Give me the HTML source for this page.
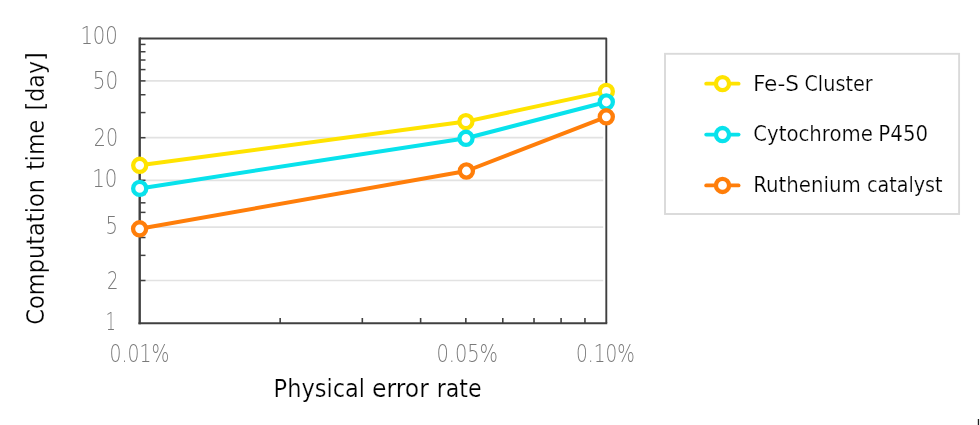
<!DOCTYPE html>
<html lang="en"><head><meta charset="utf-8"><title>Computation time vs physical error rate</title>
<style>
html,body{margin:0;padding:0;background:#fff;}
body{width:980px;height:425px;overflow:hidden;}
svg{display:block;}
.t{font-family:"DejaVu Sans Condensed","DejaVu Sans","Liberation Sans",sans-serif;fill:#000;stroke:#fff;stroke-width:0.22px;paint-order:fill stroke;}
.k{font-family:"DejaVu Sans Light","DejaVu Sans","Liberation Sans",sans-serif;font-weight:200;fill:#7a7a7a;}
</style></head><body>
<svg width="980" height="425" viewBox="0 0 980 425">
<rect width="980" height="425" fill="#fff"/>
<line x1="139.7" x2="603.2" y1="80.89" y2="80.89" stroke="#e2e2e2" stroke-width="1.7"/>
<line x1="139.7" x2="603.2" y1="137.71" y2="137.71" stroke="#e2e2e2" stroke-width="1.7"/>
<line x1="139.7" x2="603.2" y1="180.30" y2="180.30" stroke="#e2e2e2" stroke-width="1.7"/>
<line x1="139.7" x2="603.2" y1="227.20" y2="227.20" stroke="#e2e2e2" stroke-width="1.7"/>
<line x1="139.7" x2="603.2" y1="280.51" y2="280.51" stroke="#e2e2e2" stroke-width="1.7"/>
<line x1="139.7" x2="145.5" y1="280.51" y2="280.51" stroke="#404040" stroke-width="1.5"/>
<line x1="139.7" x2="145.5" y1="255.37" y2="255.37" stroke="#404040" stroke-width="1.5"/>
<line x1="139.7" x2="145.5" y1="237.53" y2="237.53" stroke="#404040" stroke-width="1.5"/>
<line x1="139.7" x2="145.5" y1="223.69" y2="223.69" stroke="#404040" stroke-width="1.5"/>
<line x1="139.7" x2="145.5" y1="212.38" y2="212.38" stroke="#404040" stroke-width="1.5"/>
<line x1="139.7" x2="145.5" y1="202.82" y2="202.82" stroke="#404040" stroke-width="1.5"/>
<line x1="139.7" x2="145.5" y1="194.54" y2="194.54" stroke="#404040" stroke-width="1.5"/>
<line x1="139.7" x2="145.5" y1="187.23" y2="187.23" stroke="#404040" stroke-width="1.5"/>
<line x1="139.7" x2="145.5" y1="137.71" y2="137.71" stroke="#404040" stroke-width="1.5"/>
<line x1="139.7" x2="145.5" y1="112.57" y2="112.57" stroke="#404040" stroke-width="1.5"/>
<line x1="139.7" x2="145.5" y1="94.73" y2="94.73" stroke="#404040" stroke-width="1.5"/>
<line x1="139.7" x2="145.5" y1="80.89" y2="80.89" stroke="#404040" stroke-width="1.5"/>
<line x1="139.7" x2="145.5" y1="69.58" y2="69.58" stroke="#404040" stroke-width="1.5"/>
<line x1="139.7" x2="145.5" y1="60.02" y2="60.02" stroke="#404040" stroke-width="1.5"/>
<line x1="139.7" x2="145.5" y1="51.74" y2="51.74" stroke="#404040" stroke-width="1.5"/>
<line x1="139.7" x2="145.5" y1="44.43" y2="44.43" stroke="#404040" stroke-width="1.5"/>
<line x1="139.7" x2="145.5" y1="180.3" y2="180.3" stroke="#404040" stroke-width="1.5"/>
<line x1="280.16" x2="280.16" y1="323.2" y2="318.0" stroke="#404040" stroke-width="1.6"/>
<line x1="362.32" x2="362.32" y1="323.2" y2="318.0" stroke="#404040" stroke-width="1.6"/>
<line x1="420.62" x2="420.62" y1="323.2" y2="318.0" stroke="#404040" stroke-width="1.6"/>
<line x1="465.84" x2="465.84" y1="323.2" y2="318.0" stroke="#404040" stroke-width="1.6"/>
<line x1="502.79" x2="502.79" y1="323.2" y2="318.0" stroke="#404040" stroke-width="1.6"/>
<line x1="534.02" x2="534.02" y1="323.2" y2="318.0" stroke="#404040" stroke-width="1.6"/>
<line x1="561.08" x2="561.08" y1="323.2" y2="318.0" stroke="#404040" stroke-width="1.6"/>
<line x1="584.95" x2="584.95" y1="323.2" y2="318.0" stroke="#404040" stroke-width="1.6"/>
<path d="M139.7 38.5 H606.3 V323.0" fill="none" stroke="#404040" stroke-width="1.9" stroke-linejoin="round"/>
<path d="M138.5 323.2 H607.25" fill="none" stroke="#404040" stroke-width="2.1"/>
<path d="M139.7 37.55 V324.2" fill="none" stroke="#404040" stroke-width="2.4"/>
<path d="M139.7 165.3 L465.9 121.6 L606.3 91.4" fill="none" stroke="#ffe300" stroke-width="4" stroke-linejoin="round" stroke-linecap="round"/>
<circle cx="139.7" cy="165.3" r="6.55" fill="#fff" stroke="#ffe300" stroke-width="4.3"/>
<circle cx="465.9" cy="121.6" r="6.55" fill="#fff" stroke="#ffe300" stroke-width="4.3"/>
<circle cx="606.3" cy="91.4" r="6.55" fill="#fff" stroke="#ffe300" stroke-width="4.3"/>
<path d="M139.7 188.4 L466.0 138.3 L606.3 102.0" fill="none" stroke="#08e2ec" stroke-width="4" stroke-linejoin="round" stroke-linecap="round"/>
<circle cx="139.7" cy="188.4" r="6.55" fill="#fff" stroke="#08e2ec" stroke-width="4.3"/>
<circle cx="466.0" cy="138.3" r="6.55" fill="#fff" stroke="#08e2ec" stroke-width="4.3"/>
<circle cx="606.3" cy="102.0" r="6.55" fill="#fff" stroke="#08e2ec" stroke-width="4.3"/>
<path d="M139.6 228.8 L466.4 171.0 L606.3 116.8" fill="none" stroke="#ff7e0a" stroke-width="4" stroke-linejoin="round" stroke-linecap="round"/>
<circle cx="139.6" cy="228.8" r="6.55" fill="#fff" stroke="#ff7e0a" stroke-width="4.3"/>
<circle cx="466.4" cy="171.0" r="6.55" fill="#fff" stroke="#ff7e0a" stroke-width="4.3"/>
<circle cx="606.3" cy="116.8" r="6.55" fill="#fff" stroke="#ff7e0a" stroke-width="4.3"/>
<text class="k" x="117.8" y="44.400000000000006" font-size="25.2" text-anchor="end" textLength="37.4" lengthAdjust="spacingAndGlyphs">100</text>
<text class="k" x="118.2" y="89.2" font-size="25.2" text-anchor="end" textLength="25.4" lengthAdjust="spacingAndGlyphs">50</text>
<text class="k" x="118.0" y="145.5" font-size="25.2" text-anchor="end" textLength="24.2" lengthAdjust="spacingAndGlyphs">20</text>
<text class="k" x="117.3" y="187.39999999999998" font-size="25.2" text-anchor="end" textLength="25.1" lengthAdjust="spacingAndGlyphs">10</text>
<text class="k" x="118.0" y="233.79999999999998" font-size="25.2" text-anchor="end" textLength="12.4" lengthAdjust="spacingAndGlyphs">5</text>
<text class="k" x="118.39999999999999" y="289.2" font-size="25.2" text-anchor="end" textLength="11.4" lengthAdjust="spacingAndGlyphs">2</text>
<text class="k" x="115.7" y="330.4" font-size="25.2" text-anchor="end" textLength="10.0" lengthAdjust="spacingAndGlyphs">1</text>
<text class="k" x="109.5" y="361.8" font-size="25.2" textLength="59.8" lengthAdjust="spacingAndGlyphs">0.01%</text>
<text class="k" x="436.4" y="361.8" font-size="25.2" textLength="61.6" lengthAdjust="spacingAndGlyphs">0.05%</text>
<text class="k" x="576.0" y="361.8" font-size="25.2" textLength="58.7" lengthAdjust="spacingAndGlyphs">0.10%</text>
<text class="t" x="273.59" y="396.8" font-size="24" textLength="91.46" lengthAdjust="spacingAndGlyphs">Physical</text>
<text class="t" x="372.04" y="396.8" font-size="24" textLength="56.81" lengthAdjust="spacingAndGlyphs">error</text>
<text class="t" x="436.65" y="396.8" font-size="24" textLength="44.99" lengthAdjust="spacingAndGlyphs">rate</text>
<g transform="translate(44.0 0) rotate(-90)">
<text class="t" x="-324.8" y="0" font-size="24" textLength="145.76" lengthAdjust="spacingAndGlyphs">Computation</text>
<text class="t" x="-170.04" y="0" font-size="24" textLength="50.35" lengthAdjust="spacingAndGlyphs">time</text>
<text class="t" x="-110.43" y="0" font-size="24" textLength="58.1" lengthAdjust="spacingAndGlyphs">[day]</text>
</g>
<rect x="665.0" y="53.8" width="294.1" height="160.2" fill="#fff" stroke="#dadada" stroke-width="1.9"/>
<line x1="706.2" x2="738.6" y1="83.65" y2="83.65" stroke="#ffe300" stroke-width="3.8" stroke-linecap="round"/>
<circle cx="722.5" cy="83.65" r="6.55" fill="#fff" stroke="#ffe300" stroke-width="4.3"/>
<text class="t" x="752.91" y="90.5" font-size="21" textLength="46.08" lengthAdjust="spacingAndGlyphs">Fe-S</text>
<text class="t" x="804.44" y="90.5" font-size="21" textLength="68.23" lengthAdjust="spacingAndGlyphs">Cluster</text>
<line x1="706.2" x2="738.6" y1="134.55" y2="134.55" stroke="#08e2ec" stroke-width="3.8" stroke-linecap="round"/>
<circle cx="722.5" cy="134.55" r="6.55" fill="#fff" stroke="#08e2ec" stroke-width="4.3"/>
<text class="t" x="753.21" y="141.0" font-size="21" textLength="119.71" lengthAdjust="spacingAndGlyphs">Cytochrome</text>
<text class="t" x="878.39" y="141.0" font-size="21" textLength="49.76" lengthAdjust="spacingAndGlyphs">P450</text>
<line x1="706.2" x2="738.6" y1="185.45000000000002" y2="185.45000000000002" stroke="#ff7e0a" stroke-width="3.8" stroke-linecap="round"/>
<circle cx="722.5" cy="185.45000000000002" r="6.55" fill="#fff" stroke="#ff7e0a" stroke-width="4.3"/>
<text class="t" x="753.19" y="192.1" font-size="21" textLength="107.71" lengthAdjust="spacingAndGlyphs">Ruthenium</text>
<text class="t" x="866.95" y="192.1" font-size="21" textLength="75.63" lengthAdjust="spacingAndGlyphs">catalyst</text>
<rect x="977.8" y="419" width="1.3" height="6" fill="#222"/>
</svg></body></html>
